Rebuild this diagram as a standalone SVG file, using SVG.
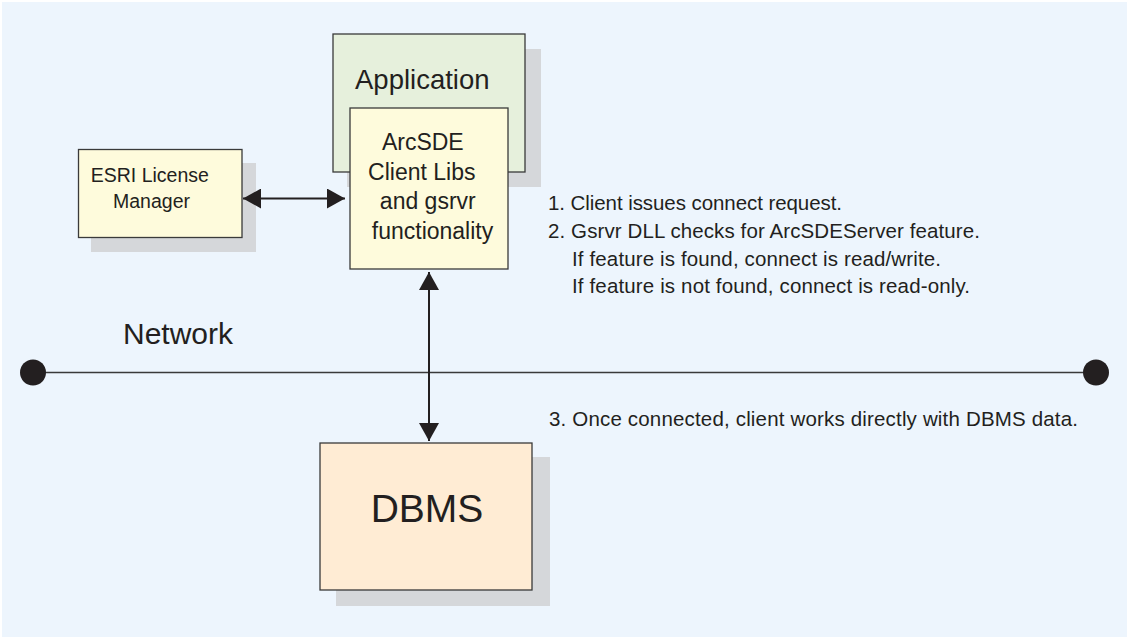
<svg xmlns="http://www.w3.org/2000/svg" width="1127" height="637" viewBox="0 0 1127 637">
  <style>
    .t { font-family: "Liberation Sans", Arial, sans-serif; fill: #231f20; }
    .box { stroke: #3a3a3a; stroke-width: 1.3; }
    .shadow { fill: #d5d7da; }
    .conn { stroke: #231f20; stroke-width: 2; fill: none; }
  </style>
  <defs>
    <marker id="ah" viewBox="0 0 18 20" refX="18" refY="10" markerWidth="18" markerHeight="20" markerUnits="userSpaceOnUse" orient="auto-start-reverse">
      <path d="M0,0 L18,10 L0,20 Z" fill="#231f20"/>
    </marker>
  </defs>
  <rect x="0" y="0" width="1127" height="637" fill="#ffffff"/>
  <rect x="2" y="2" width="1125" height="635" fill="#edf5fd"/>

  <g id="application">
    <rect class="shadow" x="347" y="49" width="194" height="138"/>
    <rect class="box" x="333" y="34" width="192" height="138" fill="#e6f0dc"/>
    <text class="t" x="355" y="89" font-size="27.5">Application</text>
  </g>

  <g id="arcsde-client">
    <rect class="box" x="350" y="108" width="158" height="161" fill="#fefbdc"/>
    <text class="t" font-size="23" text-anchor="middle">
      <tspan x="426" y="150">ArcSDE</tspan>
      <tspan x="425" y="179.5">Client Libs</tspan>
      <tspan x="431" y="209">and gsrvr</tspan>
      <tspan x="432.5" y="238.5">functionality</tspan>
    </text>
  </g>

  <g id="license-manager">
    <rect class="shadow" x="91" y="163" width="165" height="89"/>
    <rect class="box" x="78.5" y="149.5" width="163.5" height="88" fill="#fefbdc"/>
    <text class="t" font-size="19.5" text-anchor="middle">
      <tspan x="152.5" y="181.7">ESRI License</tspan>
      <tspan x="151.5" y="208.3">Manager</tspan>
    </text>
  </g>

  <g id="dbms">
    <rect class="shadow" x="336" y="457" width="214" height="149"/>
    <rect class="box" x="320" y="443" width="212" height="147" fill="#ffecd4"/>
    <text class="t" x="427" y="522" font-size="39" text-anchor="middle">DBMS</text>
  </g>

  <g id="network">
    <line x1="33" y1="372.5" x2="1096" y2="372.5" stroke="#3a3a3a" stroke-width="1.6"/>
    <circle cx="33" cy="372.5" r="13" fill="#231f20"/>
    <circle cx="1096" cy="372.5" r="13" fill="#231f20"/>
    <text class="t" x="123" y="344" font-size="30">Network</text>
  </g>

  <g id="connectors">
    <line class="conn" x1="243" y1="198.5" x2="345" y2="198.5" marker-start="url(#ah)" marker-end="url(#ah)"/>
    <line class="conn" x1="429" y1="272" x2="429" y2="441" marker-start="url(#ah)" marker-end="url(#ah)"/>
  </g>

  <g id="notes" class="t" font-size="20.5">
    <text x="548" y="210" textLength="294" lengthAdjust="spacing">1. Client issues connect request.</text>
    <text x="548" y="238" textLength="432" lengthAdjust="spacing">2. Gsrvr DLL checks for ArcSDEServer feature.</text>
    <text x="572" y="266" textLength="369" lengthAdjust="spacing">If feature is found, connect is read/write.</text>
    <text x="572" y="293" textLength="398" lengthAdjust="spacing">If feature is not found, connect is read-only.</text>
    <text x="549" y="426" textLength="529" lengthAdjust="spacing">3. Once connected, client works directly with DBMS data.</text>
  </g>
</svg>
